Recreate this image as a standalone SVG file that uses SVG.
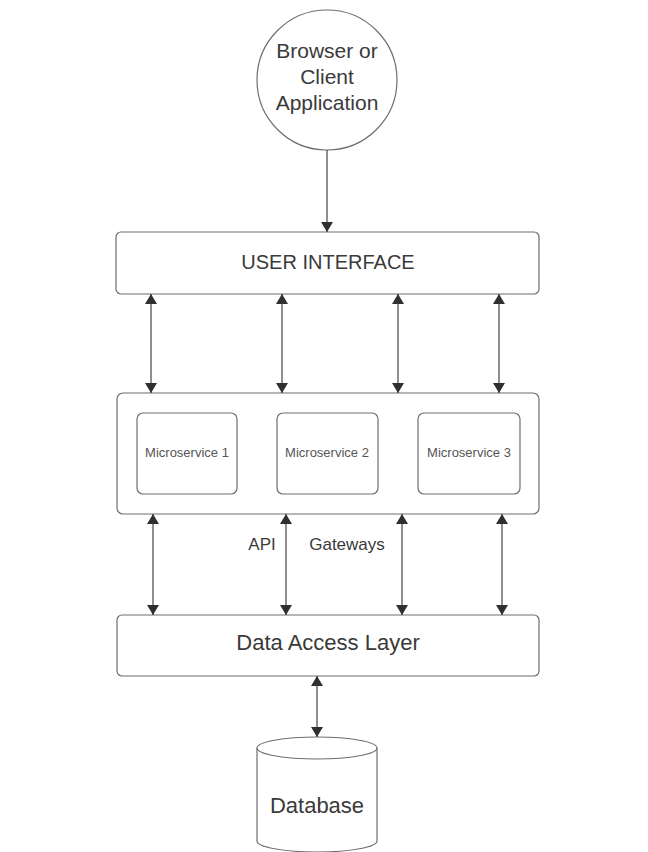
<svg xmlns="http://www.w3.org/2000/svg" width="648" height="852" viewBox="0 0 648 852">
<defs>
<style>
.box{fill:#fff;stroke:#6e6e6e;stroke-width:1.2}
.t{font-family:"Liberation Sans",Arial,sans-serif;fill:#3a3a3a;text-anchor:middle}
.ms{font-family:"Liberation Sans",Arial,sans-serif;fill:#555;text-anchor:middle;font-size:13px}
.c{stroke:#444;stroke-width:1.2;fill:none}
</style>
<marker id="ah" viewBox="0 0 10 12" refX="10" refY="6" markerWidth="10" markerHeight="12" markerUnits="userSpaceOnUse" orient="auto-start-reverse">
<path d="M0,0 L10,6 L0,12 Z" fill="#2f2f2f"/>
</marker>
</defs>
<rect width="648" height="852" fill="#fff"/>
<g id="client">
<circle cx="327" cy="80" r="70" class="box"/>
<text class="t" font-size="21" x="327" y="58">Browser or</text>
<text class="t" font-size="21" x="327" y="84">Client</text>
<text class="t" font-size="21" x="327" y="110">Application</text>
</g>
<g id="ui">
<rect x="116" y="232" width="423" height="62" rx="5" class="box"/>
<text class="t" font-size="20" x="328" y="269">USER INTERFACE</text>
</g>
<g id="gateway">
<rect x="117" y="393" width="422" height="121" rx="6" class="box"/>
</g>
<g id="ms1">
<rect x="137" y="413" width="100" height="81" rx="6" class="box"/>
<text class="ms" x="187" y="457">Microservice 1</text>
</g>
<g id="ms2">
<rect x="277" y="413" width="101" height="81" rx="6" class="box"/>
<text class="ms" x="327" y="457">Microservice 2</text>
</g>
<g id="ms3">
<rect x="418" y="413" width="102" height="81" rx="6" class="box"/>
<text class="ms" x="469" y="457">Microservice 3</text>
</g>
<g id="dal">
<rect x="117" y="615" width="422" height="61" rx="5" class="box"/>
<text class="t" font-size="22" x="328" y="650">Data Access Layer</text>
</g>
<g id="database">
<path d="M257,748 L257,841 A60,11 0 0 0 377,841 L377,748" class="box"/>
<ellipse cx="317" cy="748" rx="60" ry="11" class="box"/>
<text class="t" font-size="22" x="317" y="813">Database</text>
</g>
<g id="labels">
<text class="t" font-size="17" x="262" y="550">API</text>
<text class="t" font-size="17" x="347" y="550">Gateways</text>
</g>
<g id="connectors">
<line x1="327" y1="150" x2="327" y2="232" class="c" marker-end="url(#ah)"/>
<line x1="151" y1="294" x2="151" y2="393" class="c" marker-start="url(#ah)" marker-end="url(#ah)"/>
<line x1="282" y1="294" x2="282" y2="393" class="c" marker-start="url(#ah)" marker-end="url(#ah)"/>
<line x1="398" y1="294" x2="398" y2="393" class="c" marker-start="url(#ah)" marker-end="url(#ah)"/>
<line x1="499" y1="294" x2="499" y2="393" class="c" marker-start="url(#ah)" marker-end="url(#ah)"/>
<line x1="153" y1="514" x2="153" y2="615" class="c" marker-start="url(#ah)" marker-end="url(#ah)"/>
<line x1="286" y1="514" x2="286" y2="615" class="c" marker-start="url(#ah)" marker-end="url(#ah)"/>
<line x1="402" y1="514" x2="402" y2="615" class="c" marker-start="url(#ah)" marker-end="url(#ah)"/>
<line x1="502" y1="514" x2="502" y2="615" class="c" marker-start="url(#ah)" marker-end="url(#ah)"/>
<line x1="317" y1="676" x2="317" y2="737" class="c" marker-start="url(#ah)" marker-end="url(#ah)"/>
</g>
</svg>
